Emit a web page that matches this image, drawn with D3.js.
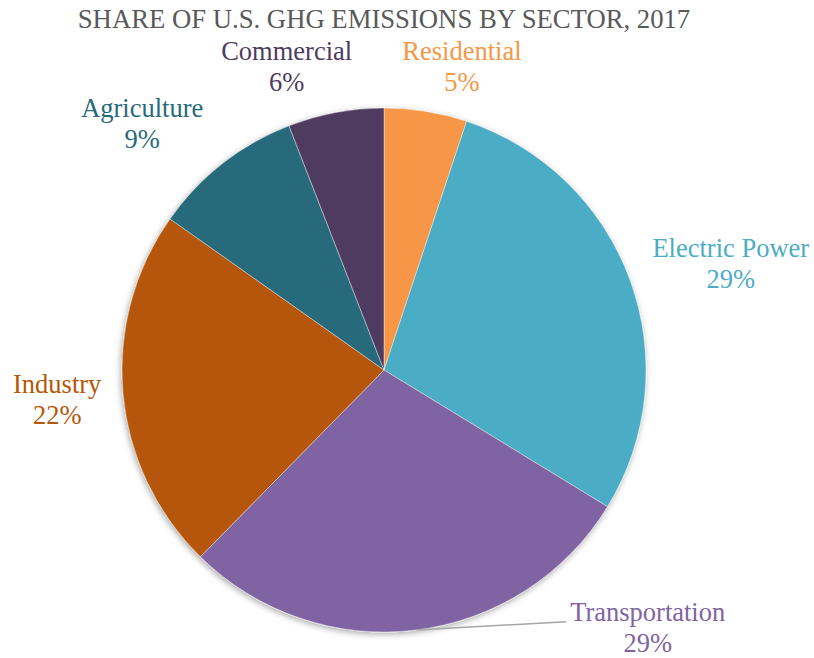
<!DOCTYPE html>
<html>
<head>
<meta charset="utf-8">
<script src="https://cdn.jsdelivr.net/npm/d3@7"></script>
<style>
  body { margin: 0; background: #fff; }
</style>
</head>
<body>
<svg width="814" height="658"></svg>
<script>
// Data (clockwise from 12 o'clock)
var sectors = ['Residential', 'Electric Power', 'Transportation', 'Industry', 'Agriculture', 'Commercial'];
var shares = [5.1, 28.6, 28.6, 22.4, 9.3, 5.9];
var colors = ['#f79646', '#4bacc6', '#8064a2', '#b65708', '#276a7b', '#4f3b61'];
var title = 'SHARE OF U.S. GHG EMISSIONS BY SECTOR, 2017';

var svg = d3.select('svg');
var font = '"Liberation Serif", "Times New Roman", serif';

var cx = 384, cy = 370, radius = 262;
var labelR = 300;

// label nudges (px) from the outer label arc, like Excel's best fit
var nudge = {
    'Residential': [30, -6],
    'Electric Power': [65, -2],
    'Transportation': [227, -39],
    'Industry': [-28, 4],
    'Agriculture': [-57, -9],
    'Commercial': [-42, -7]
};

var data = sectors.map(function(s, i) { return {name: s, value: shares[i], color: colors[i]}; });
var total = d3.sum(shares);

var defs = svg.append('defs');
var shadow = defs.append('filter').attr('id', 'shadow')
    .attr('x', '-10%').attr('y', '-10%').attr('width', '120%').attr('height', '120%');
shadow.append('feDropShadow')
    .attr('dx', -1).attr('dy', 2)
    .attr('stdDeviation', 3)
    .attr('flood-color', '#000')
    .attr('flood-opacity', 0.35);

svg.append('text')
    .attr('x', cx)
    .attr('y', 28)
    .attr('text-anchor', 'middle')
    .style('font-family', font)
    .style('font-size', '26.7px')
    .style('fill', '#595959')
    .text(title);

var pie = d3.pie().sort(null).value(function(d) { return d.value; });
var arc = d3.arc().innerRadius(0).outerRadius(radius);
var labelArc = d3.arc().innerRadius(labelR).outerRadius(labelR);
var edgeArc = d3.arc().innerRadius(radius).outerRadius(radius);

var arcs = pie(data);

var chartG = svg.append('g')
    .attr('transform', 'translate(' + [cx, cy] + ')');

chartG.append('g')
    .attr('filter', 'url(#shadow)')
    .selectAll('path')
    .data(arcs)
    .enter().append('path')
    .attr('d', arc)
    .style('fill', function(d) { return d.data.color; })
    .style('stroke', '#ffffff')
    .style('stroke-width', 0.4);

var labels = chartG.selectAll('.label')
    .data(arcs)
    .enter().append('g')
    .attr('class', 'label')
    .attr('transform', function(d) {
        var c = labelArc.centroid(d), n = nudge[d.data.name];
        return 'translate(' + [c[0] + n[0], c[1] + n[1]] + ')';
    });

labels.append('text')
    .attr('class', 'name')
    .attr('y', -8)
    .attr('text-anchor', 'middle')
    .style('font-family', font)
    .style('font-size', '26.5px')
    .style('fill', function(d) { return d.data.color; })
    .text(function(d) { return d.data.name; });

labels.append('text')
    .attr('y', 23)
    .attr('text-anchor', 'middle')
    .style('font-family', font)
    .style('font-size', '26.5px')
    .style('fill', function(d) { return d.data.color; })
    .text(function(d) { return Math.round(d.data.value / total * 100) + '%'; });

// leader line for labels that were pushed away from their slice
labels.filter(function(d) { return d.data.name === 'Transportation'; })
    .each(function(d) {
        var c = labelArc.centroid(d), n = nudge[d.data.name];
        var w = d3.select(this).select('.name').node().getComputedTextLength();
        var start = edgeArc.centroid(d);
        chartG.append('line')
            .attr('x1', start[0]).attr('y1', start[1])
            .attr('x2', c[0] + n[0] - w / 2 - 4)
            .attr('y2', c[1] + n[1] - 7)
            .style('stroke', '#a6a6a6')
            .style('stroke-width', 1.5);
    });
</script>
</body>
</html>
